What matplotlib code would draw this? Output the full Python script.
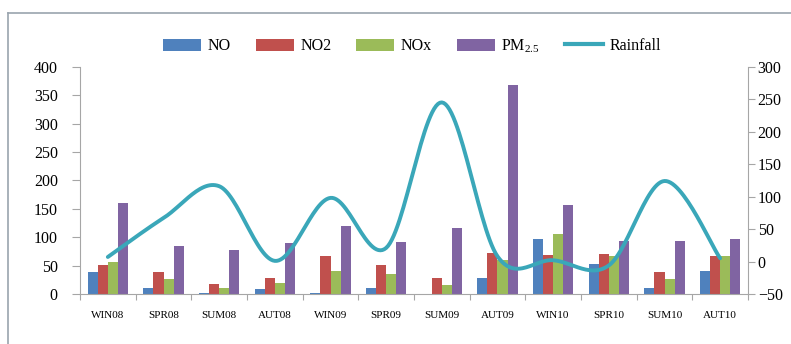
import numpy as np
import matplotlib
matplotlib.use("Agg")
import matplotlib.pyplot as plt
from matplotlib.lines import Line2D
from matplotlib.patches import Patch

categories = ["WIN08", "SPR08", "SUM08", "AUT08", "WIN09", "SPR09",
              "SUM09", "AUT09", "WIN10", "SPR10", "SUM10", "AUT10"]
no_vals   = [38, 10, 2, 8, 2, 10, 0, 28, 96, 52, 10, 40]
no2_vals  = [51, 38, 18, 28, 66, 51, 28, 73, 69, 70, 38, 66]
nox_vals  = [57, 27, 10, 19, 40, 35, 16, 60, 106, 67, 26, 66]
pm_vals   = [160, 85, 78, 89, 119, 91, 116, 367, 156, 94, 94, 96]
rain_vals = [7, 67, 116, 1, 98, 21, 245, 8, 2, -6, 124, 5]

left_ticks = [0, 50, 100, 150, 200, 250, 300, 350, 400]
right_ticks = [-50, 0, 50, 100, 150, 200, 250, 300]

plt.rcParams['font.family'] = ['Liberation Serif', 'DejaVu Serif']
plt.rcParams['mathtext.fontset'] = 'custom'
plt.rcParams['mathtext.rm'] = 'Liberation Serif'

colors = ["#4F81BD", "#C0504D", "#9BBB59", "#8064A2"]
line_color = "#3AA7B9"
spine_c = "#A6A6A6"

fig = plt.figure(figsize=(7.91, 3.44), dpi=100)
W, H = 791, 344
ax = fig.add_axes([80 / W, 1 - 294 / H, (748 - 80) / W, (294 - 66.7) / H])

x = np.arange(len(categories))
bw = 0.18
series = [no_vals, no2_vals, nox_vals, pm_vals]
for i, (vals, c) in enumerate(zip(series, colors)):
    ax.bar(x + (i - 1.5) * bw, vals, width=bw, color=c, zorder=2)

ax.set_xlim(-0.5, len(categories) - 0.5)
ax.set_ylim(0, 400)
ax.set_yticks(left_ticks)
ax.set_xticks(np.arange(-0.5, len(categories), 1.0))
ax.set_xticklabels([])
ax.set_xticks(x, minor=True)
ax.set_xticklabels(categories, minor=True, fontsize=8)
ax.tick_params(axis='x', which='minor', length=0, pad=12)
ax.tick_params(axis='x', which='major', length=4, color=spine_c, direction='out')
ax.tick_params(axis='y', length=6, color=spine_c, labelsize=11.5, pad=10)
for s in ['top', 'right']:
    ax.spines[s].set_visible(False)
for s in ['left', 'bottom']:
    ax.spines[s].set_color(spine_c)

ax2 = ax.twinx()
ax2.set_ylim(-50, 300)
ax2.set_yticks(right_ticks)
ax2.tick_params(axis='y', length=5, color=spine_c, labelsize=11.5, pad=2)
for s in ['top', 'left', 'bottom']:
    ax2.spines[s].set_visible(False)
ax2.spines['right'].set_color(spine_c)

# smooth line (Excel-like Catmull-Rom / Bezier smoothing)
px = x.astype(float)
py = np.array(rain_vals, dtype=float)
xs, ys = [], []
n = len(px)
for i in range(n - 1):
    p0 = (px[max(i - 1, 0)], py[max(i - 1, 0)])
    p1 = (px[i], py[i])
    p2 = (px[i + 1], py[i + 1])
    p3 = (px[min(i + 2, n - 1)], py[min(i + 2, n - 1)])
    c1 = (p1[0] + (p2[0] - p0[0]) / 6, p1[1] + (p2[1] - p0[1]) / 6)
    c2 = (p2[0] - (p3[0] - p1[0]) / 6, p2[1] - (p3[1] - p1[1]) / 6)
    t = np.linspace(0, 1, 30)
    bx = (1 - t) ** 3 * p1[0] + 3 * (1 - t) ** 2 * t * c1[0] + 3 * (1 - t) * t ** 2 * c2[0] + t ** 3 * p2[0]
    by = (1 - t) ** 3 * p1[1] + 3 * (1 - t) ** 2 * t * c1[1] + 3 * (1 - t) * t ** 2 * c2[1] + t ** 3 * p2[1]
    xs.extend(bx)
    ys.extend(by)
ax2.plot(xs, ys, color=line_color, lw=2.8, solid_capstyle='round', zorder=3)

handles = [Patch(facecolor=c) for c in colors] + [Line2D([], [], color=line_color, lw=3)]
labels = ["NO", "NO2", "NOx", r"PM$_{2.5}$", "Rainfall"]
fig.legend(handles, labels, loc='center', bbox_to_anchor=(0.521, 0.866), ncol=5,
           frameon=False, fontsize=11.5, handlelength=2.4, handleheight=0.8,
           columnspacing=1.55, handletextpad=0.4)

# outer frame lines
fig.add_artist(Line2D([8 / W, 1.0], [1 - 13 / H, 1 - 13 / H], color="#9AA4AE", lw=1.2,
                      transform=fig.transFigure))
fig.add_artist(Line2D([8 / W, 8 / W], [0.0, 1 - 13 / H], color="#9AA4AE", lw=1.2,
                      transform=fig.transFigure))

fig.savefig("out.png", dpi=100)
